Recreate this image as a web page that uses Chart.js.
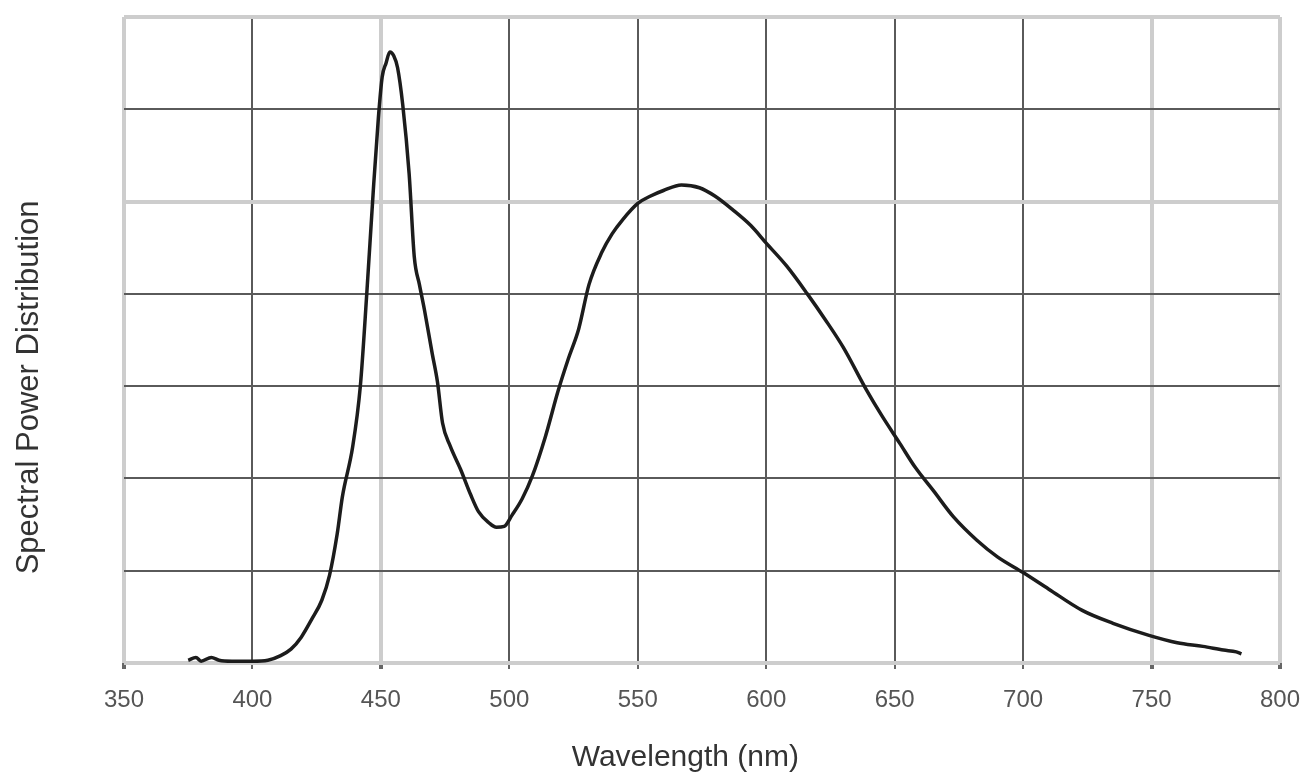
<!DOCTYPE html>
<html>
<head>
<meta charset="utf-8">
<script src="https://cdn.jsdelivr.net/npm/chart.js@4"></script>
<style>
  html, body { margin: 0; padding: 0; background: #fff; }
  #wrap { width: 1309px; height: 784px; }
</style>
</head>
<body>
<div id="wrap"><canvas id="spd" width="1309" height="784"></canvas></div>
<script>
// wavelength (nm) and relative spectral power (in grid units)
const wavelengths = [375, 378, 380, 384, 387, 392, 400, 406, 411, 415, 419, 423, 427, 430, 433, 435, 439, 442, 444.5, 447, 449, 450.5, 452, 453.5, 455, 456.5, 458.5, 461, 463, 465, 467, 470, 472, 474, 477, 481, 485, 488, 492, 495, 498, 501, 505, 509, 514, 519, 523, 527, 531, 536, 540, 544, 550, 555, 560, 567, 574, 580, 587, 594, 600, 608, 616, 623, 630, 639, 645, 652, 658, 665, 673, 682, 690, 700, 710, 723, 735, 749, 760, 770, 778, 783, 785];
const spd = [0.03, 0.06, 0.02, 0.06, 0.03, 0.02, 0.02, 0.03, 0.08, 0.15, 0.28, 0.47, 0.68, 0.95, 1.4, 1.8, 2.34, 3.0, 4.0, 5.1, 5.9, 6.35, 6.5, 6.62, 6.58, 6.45, 6.05, 5.3, 4.4, 4.1, 3.82, 3.35, 3.05, 2.6, 2.35, 2.1, 1.82, 1.64, 1.52, 1.47, 1.48, 1.6, 1.78, 2.03, 2.45, 2.95, 3.3, 3.62, 4.1, 4.45, 4.65, 4.8, 4.98, 5.06, 5.12, 5.18, 5.15, 5.06, 4.91, 4.74, 4.55, 4.3, 4.0, 3.72, 3.42, 2.96, 2.68, 2.38, 2.12, 1.87, 1.58, 1.33, 1.15, 0.98, 0.8, 0.57, 0.43, 0.3, 0.22, 0.18, 0.14, 0.12, 0.1];
const xMin = 350, xMax = 800, xStep = 50;
const yMax = 7;

// some grid lines in the scan look pale and wide
const paleX = [350, 450, 750, 800];
const paleY = [0, 5, 7];

const points = wavelengths.map((w, i) => ({ x: w, y: spd[i] }));
const font = "Liberation Sans, Arial, sans-serif";
const nb = "\u00a0"; // titles sit a bit off-centre in the original

new Chart(document.getElementById("spd"), {
  type: "line",
  data: {
    datasets: [{
      data: points,
      borderColor: "#1c1c1c",
      borderWidth: 3.5,
      pointRadius: 0,
      fill: false,
      cubicInterpolationMode: "monotone",
    }],
  },
  options: {
    responsive: false,
    animation: false,
    devicePixelRatio: 1,
    layout: { padding: { top: 17, right: 29, left: 0, bottom: 0 } },
    plugins: { legend: { display: false }, tooltip: { enabled: false } },
    scales: {
      x: {
        type: "linear",
        min: xMin,
        max: xMax,
        border: { display: false },
        grid: {
          color: (c) => paleX.includes(c.tick.value) ? "#cdcdcd" : "#5a5a5a",
          lineWidth: (c) => paleX.includes(c.tick.value) ? 4 : 2,
          tickColor: "#666",
          tickLength: 6,
        },
        ticks: {
          stepSize: xStep,
          padding: 17,
          color: "#555",
          font: { family: font, size: 24 },
          maxRotation: 0,
        },
        title: {
          display: true,
          text: "Wavelength (nm)" + nb.repeat(4),
          color: "#333",
          font: { family: font, size: 30 },
          padding: { top: 0, bottom: 8 },
        },
        afterFit: (scale) => {
          scale.height = 121;
          scale.paddingLeft = 0;
          scale.paddingRight = 0;
        },
      },
      y: {
        min: 0,
        max: yMax,
        border: { display: false },
        grid: {
          color: (c) => paleY.includes(c.tick.value) ? "#cdcdcd" : "#5a5a5a",
          lineWidth: (c) => paleY.includes(c.tick.value) ? 4 : 2,
          drawTicks: false,
        },
        ticks: { display: false, stepSize: 1 },
        title: {
          display: true,
          text: "Spectral Power Distribution" + nb.repeat(11),
          color: "#333",
          font: { family: font, size: 31 },
          padding: { top: 11, bottom: 0 },
        },
        afterFit: (scale) => { scale.width = 124; },
      },
    },
  },
});
</script>
</body>
</html>
